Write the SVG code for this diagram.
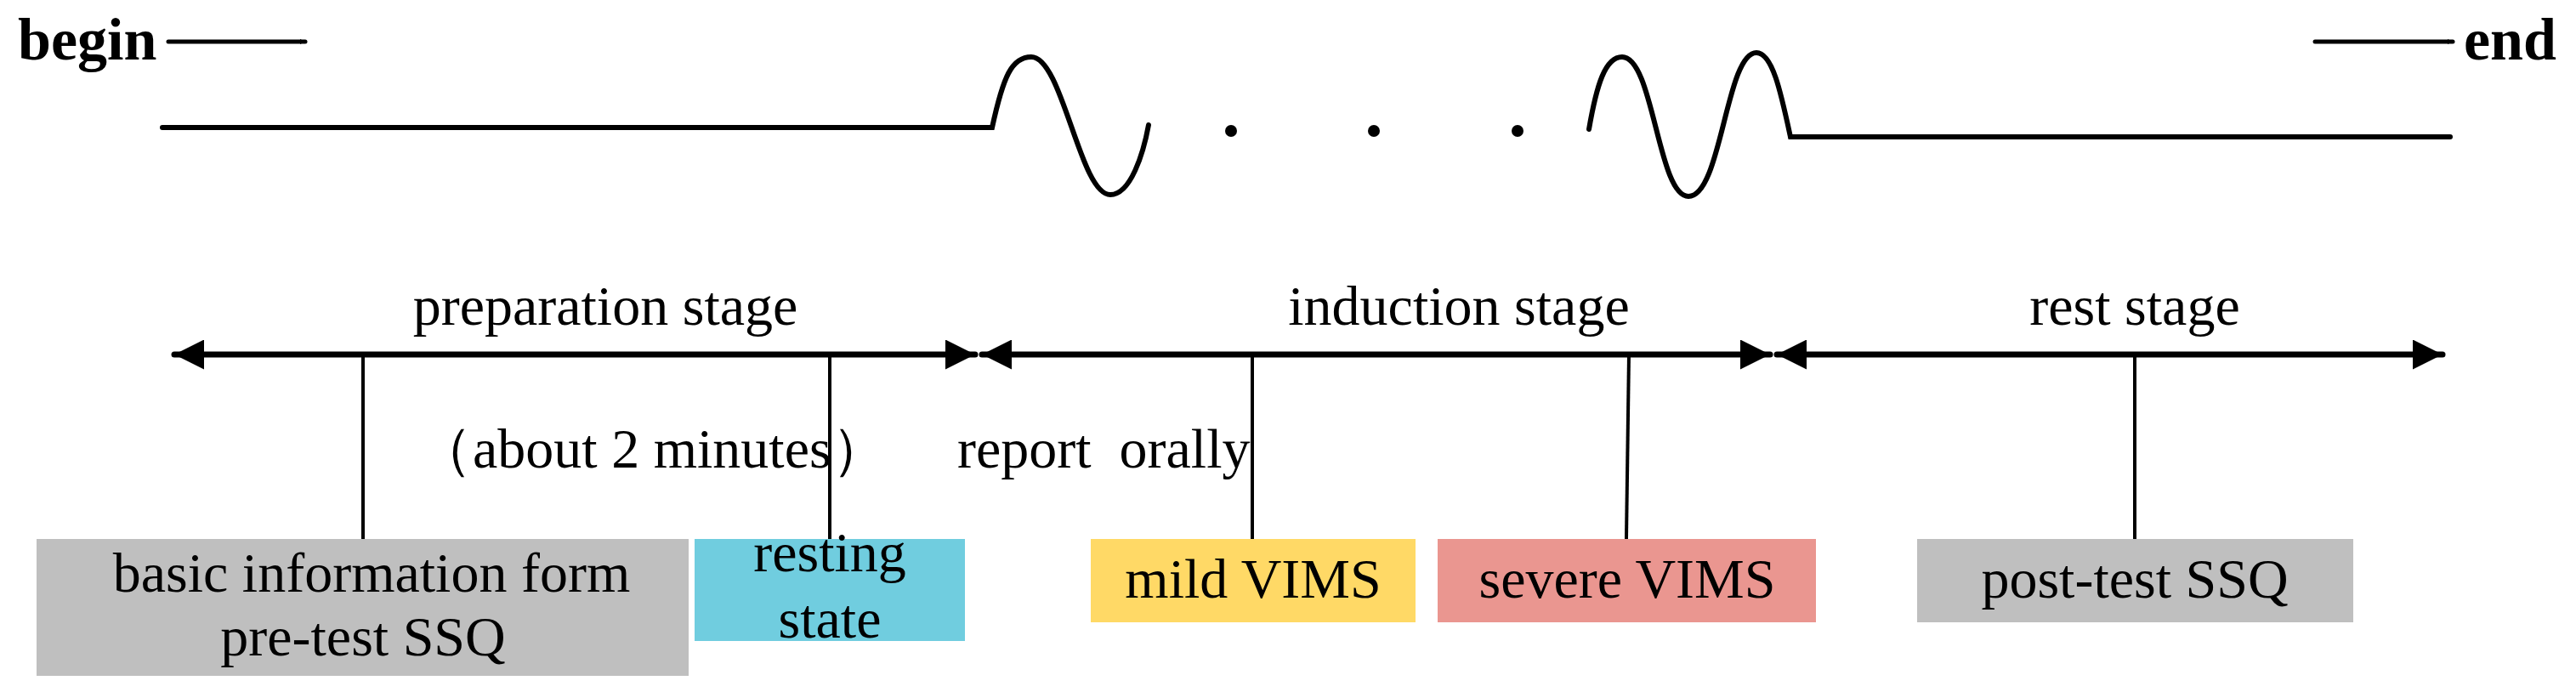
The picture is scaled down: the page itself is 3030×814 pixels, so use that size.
<svg xmlns="http://www.w3.org/2000/svg" width="3030" height="814" viewBox="0 0 3030 814">
<style>
text{font-family:"Liberation Serif","Times New Roman",serif;fill:#000;font-size:66px}
.b{font-weight:bold;font-size:70px}
.m{text-anchor:middle}
.ln{stroke:#000;fill:none;stroke-linecap:round}
.tk{stroke:#000;stroke-width:4;fill:none}
</style>
<defs>
<marker id="ah" viewBox="0 0 10 10" refX="10" refY="5" markerWidth="6" markerHeight="6" markerUnits="userSpaceOnUse" orient="auto"><path d="M0,0L10,5L0,10z"/></marker>
<marker id="big" viewBox="0 0 10 10" refX="10" refY="5" markerWidth="5" markerHeight="5" orient="auto-start-reverse"><path d="M0,0L10,5L0,10z"/></marker>
</defs>
<g id="connectors">
<line class="ln" x1="198" y1="49" x2="359" y2="49" stroke-width="5" marker-end="url(#ah)"/>
<line class="ln" x1="2723" y1="49" x2="2885" y2="49" stroke-width="5" marker-end="url(#ah)"/>
<path class="ln" stroke-width="6" d="M191,150H1167C1180,90 1190,67 1213,67C1250,67 1270,229 1306,229C1330,229 1345,180 1351,147"/>
<circle cx="1448" cy="154" r="7"/><circle cx="1616" cy="154" r="7"/><circle cx="1785" cy="154" r="7"/>
<path class="ln" stroke-width="6" d="M1869,152C1878,100 1888,67 1908,67C1945,67 1950,231 1986,231C2025,231 2030,62 2066,62C2085,62 2095,110 2106,161H2882"/>
<line class="ln" stroke-width="7" x1="205" y1="417" x2="1147" y2="417" marker-start="url(#big)" marker-end="url(#big)"/>
<line class="ln" stroke-width="7" x1="1155" y1="417" x2="2082" y2="417" marker-start="url(#big)" marker-end="url(#big)"/>
<line class="ln" stroke-width="7" x1="2090" y1="417" x2="2873" y2="417" marker-start="url(#big)" marker-end="url(#big)"/>
<line class="tk" x1="427" y1="417" x2="427" y2="634"/>
<line class="tk" x1="976" y1="417" x2="976" y2="634"/>
<line class="tk" x1="1473" y1="417" x2="1473" y2="634"/>
<line class="tk" x1="1916" y1="417" x2="1913" y2="634"/>
<line class="tk" x1="2511" y1="417" x2="2511" y2="634"/>
</g>
<g id="labels">
<text class="b" x="21" y="70">begin</text>
<text class="b" x="2898" y="70">end</text>
<text class="m" x="712" y="382">preparation stage</text>
<text class="m" x="1716" y="382">induction stage</text>
<text class="m" x="2511" y="382">rest stage</text>
<text x="490" y="550">（about 2 minutes）</text>
<text x="1126" y="550" xml:space="preserve">report  orally</text>
</g>
<g id="node-basic"><rect x="43" y="634" width="767" height="161" fill="#bfbfbf"/><text class="m" x="437" y="696">basic information form</text><text class="m" x="427" y="771">pre-test SSQ</text></g>
<g id="node-resting"><rect x="817" y="634" width="318" height="120" fill="#70cddf"/><text class="m" x="976" y="672">resting</text><text class="m" x="976" y="750">state</text></g>
<g id="node-mild"><rect x="1283" y="634" width="382" height="98" fill="#ffd966"/><text class="m" x="1474" y="703">mild VIMS</text></g>
<g id="node-severe"><rect x="1691" y="634" width="445" height="98" fill="#ea9690"/><text class="m" x="1914" y="703">severe VIMS</text></g>
<g id="node-post"><rect x="2255" y="634" width="513" height="98" fill="#bfbfbf"/><text class="m" x="2511" y="703">post-test SSQ</text></g>
</svg>
